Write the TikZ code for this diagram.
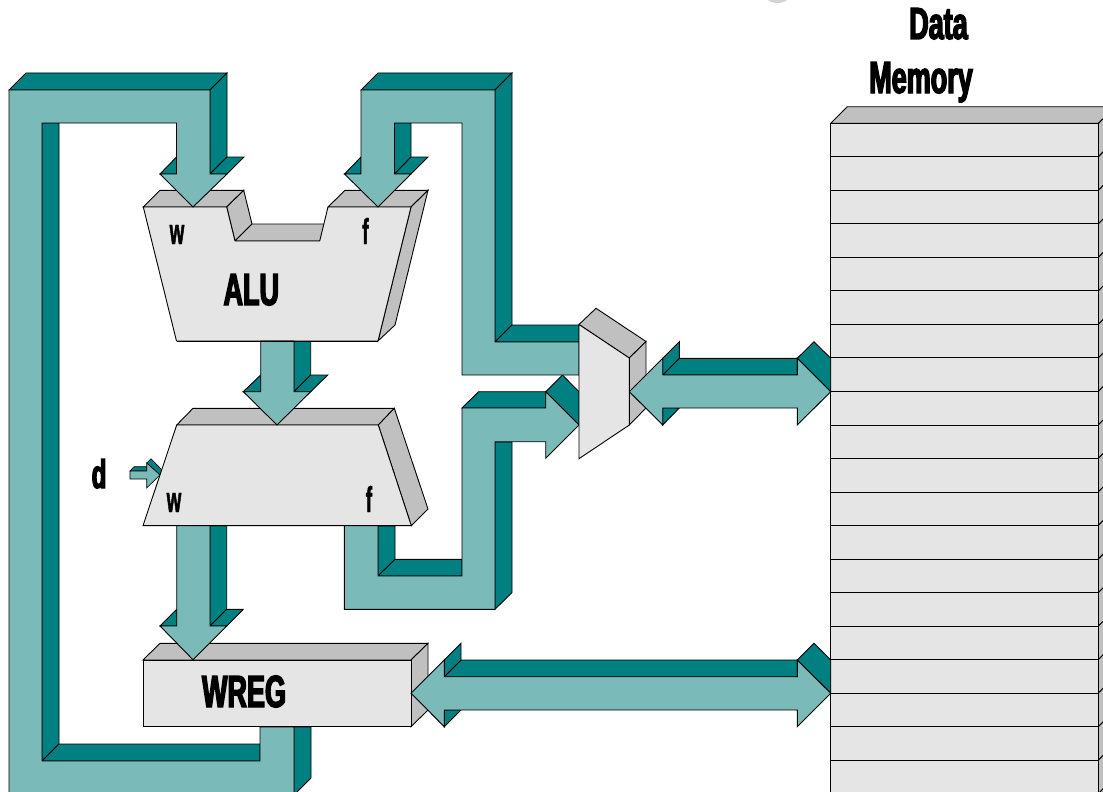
\documentclass[tikz,border=0pt]{standalone}
\usepackage{fontspec}
\newfontface\lblfont[FakeStretch=0.60,FakeBold=3]{Liberation Sans Bold}
\newfontface\smallfont[FakeStretch=0.52,FakeBold=1.2]{Liberation Sans Bold}
\definecolor{tealL}{HTML}{7ABAB9}
\definecolor{tealD}{HTML}{008080}
\definecolor{grayT}{HTML}{C0C0C0}
\definecolor{grayF}{HTML}{E5E5E5}
\definecolor{ghost}{HTML}{D4D4D4}
\tikzset{
  lite/.style={fill=tealL,draw=black,line width=0.9pt,line join=miter},
  deep/.style={fill=tealD,draw=black,line width=0.9pt,line join=miter},
  top/.style={fill=grayT,draw=black,line width=0.9pt,line join=miter},
  face/.style={fill=grayF,draw=black,line width=0.9pt,line join=miter},
  big/.style={anchor=base,inner sep=0pt,font=\lblfont\fontsize{45}{45}\selectfont},
  small/.style={anchor=base,inner sep=0pt,font=\smallfont\fontsize{36}{36}\selectfont}
}
\begin{document}
\begin{tikzpicture}[x=1pt,y=-1pt]
\useasboundingbox (0,0) rectangle (1103,792);
\begin{scope}
\clip (0,0) rectangle (1103,792);
% Cut-off shape at the top edge
\fill[ghost] (768,0) .. controls (772,4) and (783,4) .. (787,0) -- cycle;
% Memory
\foreach \k in {0,...,20}{
  \pgfmathsetmacro{\yy}{123.3+33.52*\k}
  \pgfmathsetmacro{\yb}{\yy+33.52}
  \draw[top] (1098.3,\yy) -- (1115,\yy-16.7) -- (1115,\yb-16.7) -- (1098.3,\yb) -- cycle;
  \draw[face] (830.7,\yy) rectangle (1098.3,\yb);
}
\draw[top] (830.7,123.3) -- (847.4,106.7) -- (1115,106.7) -- (1098.3,123.3) -- cycle;

% Loop 1: deep faces
\draw[deep] (9,90) -- (26,73) -- (227,73) -- (210,90) -- cycle;
\draw[deep] (210,90) -- (227,73) -- (227,157) -- (210,174) -- cycle;
\draw[deep] (210,174) -- (227,157) -- (244,157) -- (227,174) -- cycle;
\draw[deep] (160,174) -- (176.5,157) -- (176.5,174) -- cycle;
\draw[deep] (42,123) -- (59,123) -- (59,744) -- (42,761) -- cycle;
\draw[deep] (42,761) -- (59,744) -- (260,744) -- (260,761) -- cycle;
\draw[deep] (294,727) -- (311,727) -- (311,778) -- (294,795) -- cycle;

% Loop 2: deep faces
\draw[deep] (361,90) -- (378,73) -- (512,73) -- (495,90) -- cycle;
\draw[deep] (495,90) -- (512,73) -- (512,325) -- (495,342) -- cycle;
\draw[deep] (495,342) -- (512,325) -- (579,325) -- (579,342) -- cycle;
\draw[deep] (394.5,123) -- (411,123) -- (411,157) -- (394.5,174) -- cycle;
\draw[deep] (394.5,174) -- (411,157) -- (428,157) -- (411,174) -- cycle;
\draw[deep] (344.5,174) -- (361,157) -- (361,174) -- cycle;

% ALU out arrow deep
\draw[deep] (294,341) -- (310.7,341) -- (310.7,375) -- (294,391.7) -- cycle;
\draw[deep] (294,391.7) -- (310.7,375) -- (327.7,375) -- (310.7,391.7) -- cycle;
\draw[deep] (243.3,391.7) -- (260.7,375) -- (260.7,391.7) -- cycle;

% lower W arrow deep
\draw[deep] (210,525.7) -- (226.7,525.7) -- (226.7,609.3) -- (210,626) -- cycle;
\draw[deep] (210,626) -- (226.7,609.3) -- (243.3,609.3) -- (226.7,626) -- cycle;
\draw[deep] (160,626) -- (176.7,609.3) -- (176.7,626) -- cycle;

% f path deep
\draw[deep] (378,526) -- (395,526) -- (395,559.3) -- (378,576) -- cycle;
\draw[deep] (378,576) -- (395,559.3) -- (462,559.3) -- (462,576) -- cycle;
\draw[deep] (495,442) -- (512,442) -- (512,592.5) -- (495,609.3) -- cycle;
\draw[deep] (462,408) -- (478.6,391.7) -- (545.7,391.7) -- (545.7,408) -- cycle;
\draw[deep] (545.7,391.7) -- (562.4,375) -- (579,391.7) -- (579,425) -- cycle;

% d arrow
\draw[deep,line width=0.6pt] (130,471) -- (134,466.7) -- (146.7,466.7) -- (146.7,471) -- cycle;
\draw[deep,line width=0.6pt] (146.7,463) -- (151,458.7) -- (162,470) -- (160,475) -- cycle;
\draw[lite,line width=0.6pt] (130,471) -- (146.7,471) -- (146.7,463) -- (160,475) -- (146.7,488) -- (146.7,479) -- (130,479) -- cycle;

% Memory arrows deep
\draw[deep] (662.7,375) -- (679.3,358.3) -- (797.3,358.3) -- (797.3,375) -- cycle;
\draw[deep] (662.7,358.3) -- (679.3,341.7) -- (679.3,358.3) -- (662.7,375) -- cycle;
\draw[deep] (662.7,408) -- (679.3,408) -- (662.7,425) -- cycle;
\draw[deep] (797.3,358.3) -- (814,341.7) -- (830.7,358.3) -- (830.7,391.7) -- cycle;
\draw[deep] (444.3,676.7) -- (461,660) -- (797.3,660) -- (797.3,676.7) -- cycle;
\draw[deep] (444.3,660) -- (461,643.3) -- (461,660) -- (444.3,676.7) -- cycle;
\draw[deep] (444.3,710) -- (461,710) -- (444.3,726.7) -- cycle;
\draw[deep] (797.3,660) -- (814,643.3) -- (830.7,660) -- (830.7,693.3) -- cycle;

% ALU
\draw[top] (143.3,207) -- (160,190.3) -- (243.7,190.3) -- (226.7,207) -- cycle;
\draw[top] (226.7,207) -- (243.7,190.3) -- (252,224) -- (235,241) -- cycle;
\draw[top] (235,241) -- (252,224) -- (336,224) -- (319.7,241) -- cycle;
\draw[top] (328,207) -- (345,190.3) -- (428,190.3) -- (411,207) -- cycle;
\draw[top] (411,207) -- (428,190.3) -- (395,325) -- (378,341) -- cycle;
\draw[face] (143.3,207) -- (226.7,207) -- (235,241) -- (319.7,241) -- (328,207) -- (411,207) -- (378,341) -- (176.5,341) -- cycle;

% Second unit
\draw[top] (176.7,425) -- (193,408.3) -- (394.3,408.3) -- (378.3,425) -- cycle;
\draw[top] (378.3,425) -- (394.3,408.3) -- (428,509) -- (411.3,525.7) -- cycle;
\draw[face] (176.7,425) -- (378.3,425) -- (411.3,525.7) -- (143,525.7) -- cycle;

% WREG
\draw[top] (143,660) -- (160,643.3) -- (428,643.3) -- (411,660) -- cycle;
\draw[top] (411,660) -- (428,643.3) -- (428,710) -- (411,726.7) -- cycle;
\draw[face] (143,660) rectangle (411,726.7);

% Mux
\draw[top] (579,324.5) -- (596,308.3) -- (646,341.5) -- (629.3,358) -- cycle;
\draw[top] (629.3,358) -- (646,341.5) -- (646,408) -- (629.3,425) -- cycle;

% Light fronts
\draw[lite] (260,727) -- (294,727) -- (294,795) -- (9,795) -- (9,90) -- (210,90) -- (210,174) -- (227,174) -- (193,207) -- (160,174) -- (176.5,174) -- (176.5,123) -- (42,123) -- (42,761) -- (260,761) -- cycle;
\draw[lite] (344.5,174) -- (361,174) -- (361,90) -- (495,90) -- (495,342) -- (579,342) -- (579,375) -- (462,375) -- (462,123) -- (394.5,123) -- (394.5,174) -- (411,174) -- (378,207) -- cycle;
\draw[lite] (260.7,341) -- (294,341) -- (294,391.7) -- (310.7,391.7) -- (277,425) -- (243.3,391.7) -- (260.7,391.7) -- cycle;
\draw[lite] (176.7,525.7) -- (210,525.7) -- (210,626) -- (226.7,626) -- (193,659.7) -- (160,626) -- (176.7,626) -- cycle;
\draw[lite] (344.3,525.7) -- (378,525.7) -- (378,576) -- (462,576) -- (462,408) -- (545.7,408) -- (545.7,391.7) -- (579,425) -- (545.7,458.3) -- (545.7,441.7) -- (495,441.7) -- (495,609.3) -- (344.3,609.3) -- cycle;
\draw[lite] (629.3,391.7) -- (662.7,358.3) -- (662.7,375) -- (797.3,375) -- (797.3,358.3) -- (830.7,391.7) -- (797.3,425) -- (797.3,408) -- (662.7,408) -- (662.7,425) -- cycle;
\draw[lite] (411,693.3) -- (444.3,660) -- (444.3,676.7) -- (797.3,676.7) -- (797.3,660) -- (830.7,693.3) -- (797.3,726.7) -- (797.3,710) -- (444.3,710) -- (444.3,726.7) -- cycle;

% Box edges redrawn over connectors' ends
\draw[face] (579,324.5) -- (629.3,358) -- (629.3,425) -- (579,458.7) -- cycle;
\draw[line width=0.9pt] (143,525.7) -- (411.3,525.7);
\draw[line width=0.9pt] (176.5,341) -- (378,341);
\draw[line width=0.9pt] (143,726.7) -- (411,726.7);

% Labels
\node[big] (data) at (938.5,39) {Data};
\node[big] (memory) at (921,93) {Memory};
\node[big] (alu) at (251.3,305) {ALU};
\node[big] (wreg) at (244,707) {WREG};
\node[big,font=\lblfont\fontsize{40}{40}\selectfont] (dlabel) at (99,488) {d};
\node[small] (w1) at (177,244) {w};
\node[small] (f1) at (365.5,244) {f};
\node[small] (w2) at (174,512) {w};
\node[small] (f2) at (369,512) {f};
\end{scope}
\end{tikzpicture}
\end{document}
